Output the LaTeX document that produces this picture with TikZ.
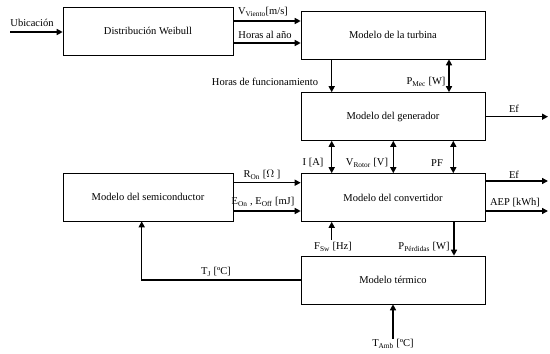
\documentclass[tikz,border=0pt]{standalone}
\usepackage{fontspec}
\setmainfont{Liberation Serif}
\usetikzlibrary{arrows.meta,positioning}

\begin{document}
\begin{tikzpicture}[x=1pt, y=-1pt,
  every node/.style={font=\fontsize{10.5}{12}\selectfont},
  blk/.style={rectangle, draw, line width=0.6pt, minimum width=170pt,
              minimum height=48pt, inner sep=0pt},
  wblk/.style={blk, minimum width=184pt},
  lbl/.style={inner sep=0.5pt},
  arr/.style={-{Triangle[length=6pt,width=6pt]}, line width=1.4pt},
  darr/.style={{Triangle[length=6pt,width=6pt]}-{Triangle[length=6pt,width=6pt]}, line width=1.4pt}
]
  \useasboundingbox (0,0) rectangle (550,354);

  % bloques
  \node[blk]  (weib) at (148,31)    {Distribución Weibull};
  \node[wblk] (turb) at (393,35)    {Modelo de la turbina};
  \node[wblk] (gen)  at (393,116.5) {Modelo del generador};
  \node[wblk] (conv) at (393,197.5) {Modelo del convertidor};
  \node[blk]  (semi) at (148,197)   {Modelo del semiconductor};
  \node[wblk] (term) at (393,280)   {Modelo térmico};

  % etiquetas
  \node[lbl] (ubi)  at (32,23)   {Ubicación};
  \node[lbl] (vv)   at (263,12)  {V\textsubscript{Viento}[m/s]};
  \node[lbl] (hano) at (265,35)  {Horas al año};
  \node[lbl] (hfun) at (265,82)  {Horas de funcionamiento};
  \node[lbl] (pmec) at (426,82)  {P\textsubscript{Mec} [W]};
  \node[lbl] (efg)  at (514,109) {Ef};
  \node[lbl] (ia)   at (313,163) {I [A]};
  \node[lbl] (vrot) at (367,163) {V\textsubscript{Rotor} [V]};
  \node[lbl] (pf)   at (437,163) {PF};
  \node[lbl] (efc)  at (514,175) {Ef};
  \node[lbl] (aep)  at (515,203) {AEP [kWh]};
  \node[lbl] (ron)  at (262,175) {R\textsubscript{On} [$\Omega$ ]};
  \node[lbl] (eon)  at (263,202) {E\textsubscript{On} , E\textsubscript{Off} [mJ]};
  \node[lbl] (fsw)  at (333,247) {F\textsubscript{Sw} [Hz]};
  \node[lbl] (pper) at (424,247) {P\textsubscript{Pérdidas} [W]};
  \node[lbl] (tj)   at (216,272) {T\textsubscript{J} [ºC]};
  \node[lbl] (tamb) at (393,344) {T\textsubscript{Amb} [ºC]};

  \coordinate (ubi0) at (10,32);
  \coordinate (efg1) at (548,116.7);
  \coordinate (efc1) at (548,181);
  \coordinate (aep1) at (548,211);

  % conexiones
  \draw[arr] (ubi0) -- (weib.west |- ubi0);
  \draw[arr] (weib.east |- 0,21) -- (turb.west |- 0,21);
  \draw[arr] (weib.east |- 0,43) -- (turb.west |- 0,43);
  \draw[arr] (turb.south -| 331.7,0) -- (gen.north -| 331.7,0);
  \draw[darr] (turb.south -| 449,0) -- (gen.north -| 449,0);
  \draw[arr] (gen.east |- efg1) -- (efg1);
  \draw[darr] (gen.south -| 331.7,0) -- (conv.north -| 331.7,0);
  \draw[darr] (gen.south -| 393.3,0) -- (conv.north -| 393.3,0);
  \draw[darr] (gen.south -| 453.3,0) -- (conv.north -| 453.3,0);
  \draw[arr] (conv.east |- efc1) -- (efc1);
  \draw[arr] (conv.east |- aep1) -- (aep1);
  \draw[arr] (semi.east |- 0,182.7) -- (conv.west |- 0,182.7);
  \draw[arr] (semi.east |- 0,211) -- (conv.west |- 0,211);
  \draw[arr] (331.7,240) -- (conv.south -| 331.7,0);
  \draw[arr] (conv.south -| 454,0) -- (term.north -| 454,0);
  \draw[arr] (term.west |- 0,280) -| (semi.south -| 141.7,0);
  \draw[arr] (tamb.north) -- (term.south);
\end{tikzpicture}
\end{document}
